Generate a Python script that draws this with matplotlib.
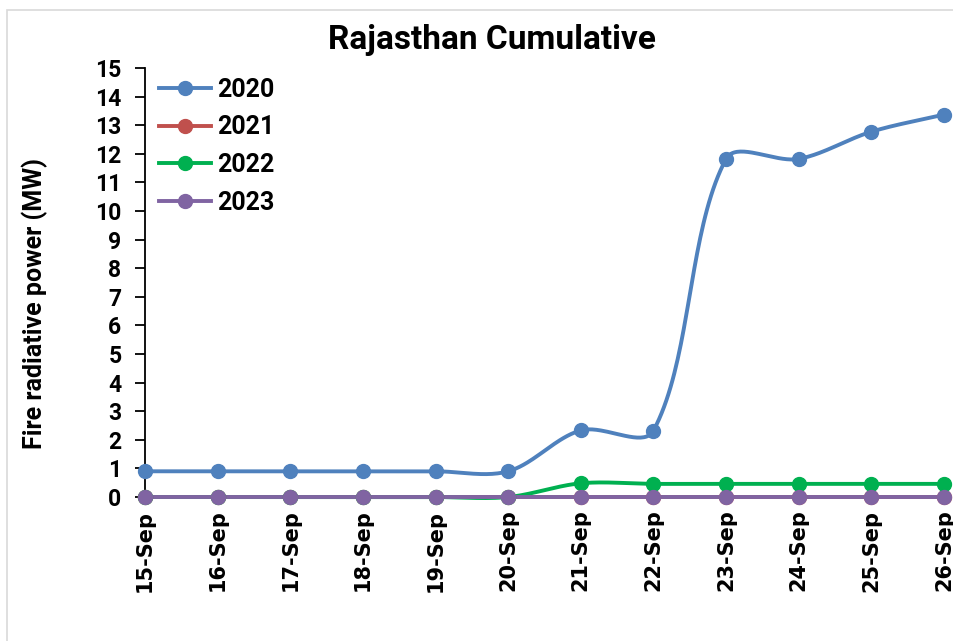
import matplotlib
matplotlib.use('Agg')
import matplotlib.pyplot as plt
import numpy as np
from matplotlib.patches import Rectangle

# Данные
dates = ['15-Sep', '16-Sep', '17-Sep', '18-Sep', '19-Sep', '20-Sep',
         '21-Sep', '22-Sep', '23-Sep', '24-Sep', '25-Sep', '26-Sep']
frp_2020 = [0.9, 0.9, 0.9, 0.9, 0.9, 0.9, 2.33, 2.32, 11.82, 11.82, 12.77, 13.37]
frp_2021 = [0, 0, 0, 0, 0, 0, 0, 0, 0, 0, 0, 0]
frp_2022 = [0, 0, 0, 0, 0, 0, 0.48, 0.46, 0.46, 0.46, 0.46, 0.46]
frp_2023 = [0, 0, 0, 0, 0, 0, 0, 0, 0, 0, 0, 0]
years = ['2020', '2021', '2022', '2023']
colors = ['#4f81bd', '#c0504d', '#00b050', '#8064a2']

font = ['Roboto', 'DejaVu Sans']

# масштаб (пиксели на единицу) для сглаживания в экранных координатах
SX, SY = 72.6, 28.6


def smooth(x, y, n=40):
    """Сглаживание линий примерно как в Excel (кривые Безье)."""
    P = np.column_stack([np.asarray(x, float) * SX, np.asarray(y, float) * SY])
    P = np.vstack([P[0], P, P[-1]])
    xs, ys = [], []
    t = np.linspace(0, 1, n)[:, None]
    for i in range(1, len(P) - 2):
        p0, p3 = P[i], P[i + 1]
        d_prev = np.linalg.norm(P[i] - P[i - 1])
        d_cur = np.linalg.norm(P[i + 1] - P[i])
        d_next = np.linalg.norm(P[i + 2] - P[i + 1])
        f1 = d_cur / (d_prev + d_cur) / 3 if d_prev + d_cur > 0 else 0
        f2 = d_cur / (d_cur + d_next) / 3 if d_cur + d_next > 0 else 0
        p1 = p0 + (P[i + 1] - P[i - 1]) * f1
        p2 = p3 - (P[i + 2] - P[i]) * f2
        b = (1 - t) ** 3 * p0 + 3 * (1 - t) ** 2 * t * p1 + 3 * (1 - t) * t ** 2 * p2 + t ** 3 * p3
        xs.append(b[:, 0] / SX)
        ys.append(b[:, 1] / SY)
    return np.concatenate(xs), np.concatenate(ys)


fig = plt.figure(figsize=(9.54, 6.41), dpi=100)
ax = fig.add_axes([0.152, 0.2246, 0.8375, 0.6694])

# Рамка диаграммы
fig.patches.append(Rectangle((0.007, -0.05), 1.0, 1.034, transform=fig.transFigure,
                             fill=False, edgecolor='#d9d9d9', linewidth=1.2))

x = np.arange(len(dates))
for vals, year, c in zip([frp_2020, frp_2021, frp_2022, frp_2023], years, colors):
    sx, sy = smooth(x, vals)
    ax.plot(sx, sy, color=c, linewidth=2.8, clip_on=False, zorder=3)
    ax.plot(x, vals, 'o', color=c, markersize=10, clip_on=False, zorder=4)
    ax.plot([], [], '-o', color=c, linewidth=2.8, markersize=10, label=year)

ax.set_xlim(0, len(dates) - 1)
ax.set_ylim(0, 15)
ax.set_yticks(range(0, 16))
ax.set_xticks(x)
ax.set_xticklabels(dates, rotation=90, fontsize=15, fontweight='bold',
                   family='DejaVu Sans')
for lbl in ax.get_yticklabels():
    lbl.set_fontsize(16.5)
    lbl.set_fontweight('bold')
    lbl.set_family(font)

for s in ['top', 'right']:
    ax.spines[s].set_visible(False)
ax.spines['left'].set_linewidth(1.3)
ax.spines['bottom'].set_linewidth(1.3)
ax.tick_params(axis='y', length=7, width=1.3, pad=10)
ax.tick_params(axis='x', length=4, width=1.3, pad=5)

ax.set_ylabel('Fire radiative power (MW)', fontsize=18, fontweight='bold',
              family=font)
ax.yaxis.set_label_coords(-0.121, 0.45)
ax.set_title('Rajasthan Cumulative', fontsize=24, fontweight='bold',
             family=font, pad=14, x=0.434)

ax.legend(loc='upper left', bbox_to_anchor=(-0.011, 1.03), frameon=False,
          prop={'family': font, 'weight': 'bold', 'size': 18},
          handlelength=2.1, labelspacing=0.55, handletextpad=0.25)

fig.savefig('out.png', dpi=100, facecolor='white')
